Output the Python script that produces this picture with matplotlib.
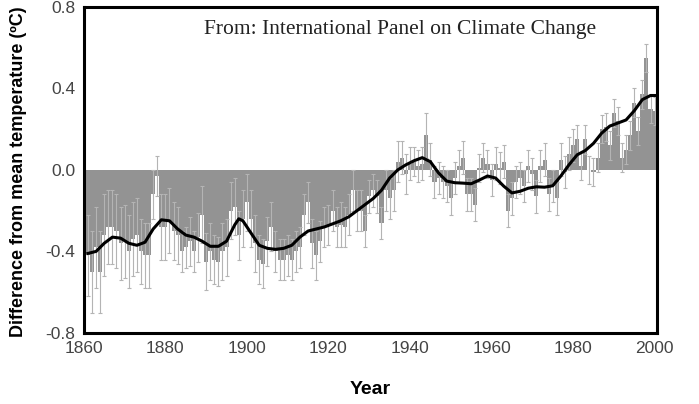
import matplotlib.pyplot as plt
import numpy as np

# annual global temperature anomalies (deg C), 1861-2000
years = np.arange(1861, 2001)
anomaly = [
    -0.42, -0.50, -0.38, -0.50, -0.32, -0.28, -0.28, -0.30, -0.36,          # 1861-69
    -0.35, -0.40, -0.34, -0.32, -0.40, -0.42, -0.42, -0.12, -0.03, -0.28,   # 1870-79
    -0.28, -0.25, -0.30, -0.32, -0.40, -0.38, -0.35, -0.40, -0.33, -0.22,   # 1880-89
    -0.45, -0.40, -0.44, -0.45, -0.40, -0.38, -0.20, -0.18, -0.32, -0.24,   # 1890-99
    -0.16, -0.24, -0.36, -0.44, -0.46, -0.35, -0.28, -0.40, -0.44, -0.44,   # 1900-09
    -0.42, -0.44, -0.40, -0.38, -0.22, -0.16, -0.36, -0.42, -0.35, -0.28,   # 1910-19
    -0.27, -0.20, -0.28, -0.27, -0.28, -0.22, -0.10, -0.20, -0.20, -0.30,   # 1920-29
    -0.13, -0.10, -0.13, -0.26, -0.10, -0.14, -0.10, 0.04, 0.06, -0.02,     # 1930-39
    0.03, 0.04, 0.02, 0.03, 0.17, 0.05, -0.06, -0.04, -0.06, -0.08,         # 1940-49
    -0.14, -0.04, 0.02, 0.06, -0.12, -0.12, -0.17, 0.01, 0.06, 0.03,        # 1950-59
    -0.05, 0.03, 0.01, 0.04, -0.20, -0.14, -0.06, -0.04, -0.08, 0.02,       # 1960-69
    -0.02, -0.13, 0.02, 0.05, -0.12, -0.08, -0.14, 0.05, -0.01, 0.08,       # 1970-79
    0.12, 0.15, 0.02, 0.15, 0.00, -0.01, 0.06, 0.20, 0.21, 0.12,            # 1980-89
    0.28, 0.24, 0.06, 0.10, 0.17, 0.33, 0.19, 0.37, 0.55, 0.30,             # 1990-99
    0.29,                                                                   # 2000
]

# uncertainty (half-width of the error bars)
uncert = [
    0.20, 0.20, 0.20, 0.20, 0.20, 0.18, 0.18, 0.18, 0.18,
    0.18, 0.18, 0.18, 0.18, 0.16, 0.16, 0.16, 0.12, 0.10, 0.16,
    0.16, 0.16, 0.14, 0.14, 0.10, 0.10, 0.12, 0.10, 0.12, 0.14,
    0.14, 0.14, 0.12, 0.12, 0.14, 0.14, 0.14, 0.14, 0.12, 0.14,
    0.14, 0.14, 0.14, 0.12, 0.12, 0.12, 0.12, 0.10, 0.10, 0.10,
    0.10, 0.10, 0.10, 0.10, 0.10, 0.10, 0.12, 0.12, 0.10, 0.10,
    0.10, 0.10, 0.10, 0.11, 0.10, 0.10, 0.10, 0.10, 0.10, 0.08,
    0.08, 0.08, 0.08, 0.08, 0.10, 0.10, 0.10, 0.10, 0.08, 0.10,
    0.08, 0.07, 0.08, 0.08, 0.11, 0.08, 0.08, 0.08, 0.08, 0.08,
    0.08, 0.08, 0.08, 0.08, 0.08, 0.08, 0.08, 0.07, 0.07, 0.07,
    0.08, 0.08, 0.08, 0.08, 0.08, 0.08, 0.08, 0.08, 0.08, 0.08,
    0.08, 0.08, 0.08, 0.08, 0.08, 0.08, 0.08, 0.08, 0.08, 0.08,
    0.08, 0.07, 0.07, 0.07, 0.07, 0.07, 0.07, 0.07, 0.07, 0.07,
    0.07, 0.07, 0.07, 0.07, 0.07, 0.07, 0.07, 0.07, 0.07, 0.07,
    0.07,
]

# smoothed curve
smooth_years = [1861, 1863, 1865, 1867, 1869, 1871, 1873, 1875, 1877, 1879,
                1881, 1883, 1885, 1887, 1889, 1891, 1893, 1895, 1897, 1898,
                1899, 1901, 1903, 1905, 1907, 1909, 1911, 1913, 1915, 1917,
                1919, 1921, 1923, 1925, 1927, 1929, 1931, 1933, 1935, 1937,
                1939, 1941, 1943, 1945, 1947, 1949, 1951, 1953, 1955, 1957,
                1959, 1961, 1963, 1965, 1967, 1969, 1971, 1973, 1975, 1977,
                1979, 1981, 1983, 1985, 1987, 1989, 1991, 1993, 1995, 1997,
                1999, 2000]
smooth_vals = [-0.41, -0.40, -0.36, -0.33, -0.335, -0.36, -0.37, -0.355, -0.29, -0.245,
               -0.25, -0.29, -0.32, -0.33, -0.35, -0.375, -0.375, -0.35, -0.27, -0.24,
               -0.25, -0.31, -0.37, -0.385, -0.39, -0.385, -0.37, -0.33, -0.30, -0.29,
               -0.28, -0.265, -0.25, -0.23, -0.20, -0.17, -0.14, -0.10, -0.04, 0.00,
               0.025, 0.045, 0.06, 0.04, -0.015, -0.055, -0.063, -0.065, -0.068, -0.05,
               -0.03, -0.04, -0.08, -0.113, -0.105, -0.09, -0.083, -0.085, -0.078, -0.03,
               0.025, 0.074, 0.095, 0.13, 0.18, 0.215, 0.23, 0.245, 0.29, 0.345,
               0.365, 0.365]

fig = plt.figure(figsize=(6.99, 4.04), dpi=100)
ax = fig.add_axes([0.120, 0.176, 0.820, 0.807])

ax.bar(years, anomaly, width=1.0, color='#939393', edgecolor='none', zorder=1)
ax.errorbar(years, anomaly, yerr=uncert, fmt='none', ecolor='#b4b4b4',
            elinewidth=0.8, capsize=1.5, capthick=0.8, zorder=2)
ax.plot(smooth_years, smooth_vals, color='black', linewidth=2.2, zorder=3)

ax.set_xlim(1860, 2000.6)
ax.set_ylim(-0.8, 0.8)
ax.set_xticks(np.arange(1860, 2001, 20))
ax.set_yticks([-0.8, -0.4, 0.0, 0.4, 0.8])
ax.set_yticklabels(['-0.8', '-0.4', '0.0', '0.4', '0.8'])
ax.tick_params(length=0, labelsize=12.5, labelcolor='#444444', pad=6)
for lab in ax.get_xticklabels() + ax.get_yticklabels():
    lab.set_family('Liberation Sans')

for s in ax.spines.values():
    s.set_linewidth(2.2)
    s.set_color('black')

ax.text(0.551, 0.93, 'From: International Panel on Climate Change',
        transform=ax.transAxes, ha='center', va='center',
        family='Liberation Serif', fontsize=15.5, color='#222222')

fig.text(0.026, 0.575, 'Difference from mean temperature (ºC)', rotation=90,
         ha='center', va='center', family='Liberation Sans', fontweight='bold',
         fontsize=13)
fig.text(0.530, 0.035, 'Year', ha='center', va='center',
         family='Liberation Sans', fontweight='bold', fontsize=14)

plt.savefig('out.png', dpi=100)
